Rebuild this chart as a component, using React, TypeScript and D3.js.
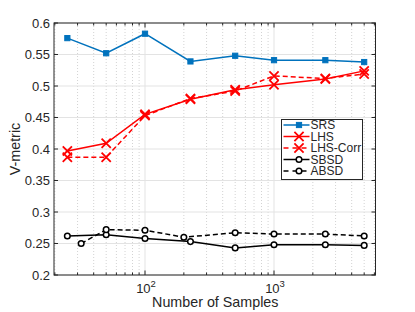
import React from 'react';
import * as d3 from 'd3';

const samples = [25, 50, 100, 225, 500, 1000, 2500, 5000];
const absdSamples = [32, 50, 100, 200, 500, 1000, 2500, 5000];

const srs = [0.576, 0.552, 0.583, 0.539, 0.548, 0.541, 0.541, 0.538];
const lhs = [0.397, 0.409, 0.455, 0.479, 0.494, 0.502, 0.511, 0.524];
const lhsCorr = [0.387, 0.387, 0.453, 0.480, 0.492, 0.516, 0.512, 0.519];
const sbsd = [0.262, 0.264, 0.258, 0.253, 0.243, 0.248, 0.248, 0.247];
const absd = [0.250, 0.272, 0.271, 0.260, 0.267, 0.265, 0.265, 0.262];

const yTicks = [0.2, 0.25, 0.3, 0.35, 0.4, 0.45, 0.5, 0.55, 0.6];
const xMajor = [100, 1000];
const xMinor = [20, 30, 40, 50, 60, 70, 80, 90, 200, 300, 400, 500, 600, 700, 800, 900, 2000, 3000, 4000, 5000, 6000];

const W = 415;
const H = 312;
const left = 54;
const right = 375.5;
const top = 23;
const bottom = 275;

const BLUE = '#0072BD';
const RED = '#FF0000';
const BLACK = '#000000';
const AXIS = '#262626';
const FONT = '"Liberation Sans", Arial, Helvetica, sans-serif';

type Marker = 'square' | 'x' | 'circle';

interface Series {
  name: string;
  xs: number[];
  ys: number[];
  color: string;
  dash?: string;
  marker: Marker;
}

const series: Series[] = [
  {name: 'SRS', xs: samples, ys: srs, color: BLUE, marker: 'square'},
  {name: 'LHS', xs: samples, ys: lhs, color: RED, marker: 'x'},
  {name: 'LHS-Corr', xs: samples, ys: lhsCorr, color: RED, dash: '5,3', marker: 'x'},
  {name: 'SBSD', xs: samples, ys: sbsd, color: BLACK, marker: 'circle'},
  {name: 'ABSD', xs: absdSamples, ys: absd, color: BLACK, dash: '5,3', marker: 'circle'},
];

const drawMarker = (m: Marker, x: number, y: number, color: string, key: string) => {
  if (m === 'square')
    return <rect key={key} x={x - 2.6} y={y - 2.6} width={5.2} height={5.2} fill={color} stroke={color} strokeWidth={1} />;
  if (m === 'x') {
    const s = 4.6;
    return (
      <path key={key} d={`M${x - s},${y - s}L${x + s},${y + s}M${x - s},${y + s}L${x + s},${y - s}`}
        stroke={color} strokeWidth={1.8} fill="none" />
    );
  }
  return <circle key={key} cx={x} cy={y} r={2.8} fill="white" stroke={color} strokeWidth={1.5} />;
};

export default function App() {
  const x = d3.scaleLog().domain([19.7, 6120]).range([left, right]);
  const y = d3.scaleLinear().domain([0.2, 0.6]).range([bottom, top]);

  const fmt = (v: number) => String(+v.toFixed(2));

  const legX = 281.5;
  const legY = 119.5;
  const legW = 81;
  const legH = 60;
  const legRows = [125, 136.5, 148, 159.5, 171].map((v) => v - legY);

  return (
    <svg width={W} height={H} style={{position: 'absolute', left: 0, top: 0}} fontFamily={FONT}>
      <rect x={0} y={0} width={W} height={H} fill="white" />
      {/* minor grid */}
      {xMinor.map((t) => (
        <line key={'mg' + t} x1={x(t)} x2={x(t)} y1={top} y2={bottom} stroke="#c8c8c8" strokeWidth={0.8} strokeDasharray="1,2" />
      ))}
      {/* major grid */}
      {xMajor.map((t) => (
        <line key={'gx' + t} x1={x(t)} x2={x(t)} y1={top} y2={bottom} stroke="#e3e3e3" strokeWidth={1} />
      ))}
      {yTicks.map((t) => (
        <line key={'gy' + t} x1={left} x2={right} y1={y(t)} y2={y(t)} stroke="#e3e3e3" strokeWidth={1} />
      ))}

      {/* series */}
      {series.map((s) => {
        const pts: [number, number][] = s.xs.map((v, i) => [x(v), y(s.ys[i])]);
        const line = d3.line();
        return (
          <g key={s.name}>
            <path d={line(pts) || ''} fill="none" stroke={s.color} strokeWidth={1.5} strokeDasharray={s.dash} />
            {pts.map((p, i) => drawMarker(s.marker, p[0], p[1], s.color, s.name + i))}
          </g>
        );
      })}

      {/* axes box and ticks */}
      <rect x={left} y={top} width={right - left} height={bottom - top} fill="none" stroke={AXIS} strokeWidth={1} />
      {yTicks.map((t) => (
        <g key={'yt' + t}>
          <line x1={left} x2={left + 4} y1={y(t)} y2={y(t)} stroke={AXIS} />
          <line x1={right} x2={right - 4} y1={y(t)} y2={y(t)} stroke={AXIS} />
          <text x={left - 4} y={y(t)} dy="0.35em" textAnchor="end" fontSize={13} fill={AXIS}>
            {fmt(t)}
          </text>
        </g>
      ))}
      {xMinor.map((t) => (
        <g key={'xm' + t}>
          <line x1={x(t)} x2={x(t)} y1={bottom} y2={bottom - 2.5} stroke={AXIS} />
          <line x1={x(t)} x2={x(t)} y1={top} y2={top + 2.5} stroke={AXIS} />
        </g>
      ))}
      {xMajor.map((t) => (
        <g key={'xt' + t}>
          <line x1={x(t)} x2={x(t)} y1={bottom} y2={bottom - 4.5} stroke={AXIS} />
          <line x1={x(t)} x2={x(t)} y1={top} y2={top + 4.5} stroke={AXIS} />
          <text x={x(t) + 1} y={293} textAnchor="middle" fontSize={13} fill={AXIS}>
            10
            <tspan dy={-6} fontSize={9.5}>{Math.round(Math.log10(t))}</tspan>
          </text>
        </g>
      ))}

      {/* axis labels */}
      <text x={(left + right) / 2 + 0.5} y={307} textAnchor="middle" fontSize={14.3} fill={AXIS}>
        Number of Samples
      </text>
      <text transform={`translate(19.5, ${(top + bottom) / 2}) rotate(-90)`} textAnchor="middle" fontSize={14.3} fill={AXIS}>
        V-metric
      </text>

      {/* legend */}
      <g transform={`translate(${legX}, ${legY})`}>
        <rect x={0} y={0} width={legW} height={legH} fill="white" stroke={AXIS} strokeWidth={1} />
        {series.map((s, i) => (
          <g key={'lg' + s.name} transform={`translate(0, ${legRows[i]})`}>
            <line x1={2} x2={28} y1={0} y2={0} stroke={s.color} strokeWidth={1.5} strokeDasharray={s.dash ? '5,4' : undefined} />
            {drawMarker(s.marker, 17.5, 0, s.color, 'lm' + i)}
            <text x={29} y={0} dy="0.35em" fontSize={12} fill={AXIS}>
              {s.name}
            </text>
          </g>
        ))}
      </g>
    </svg>
  );
}
